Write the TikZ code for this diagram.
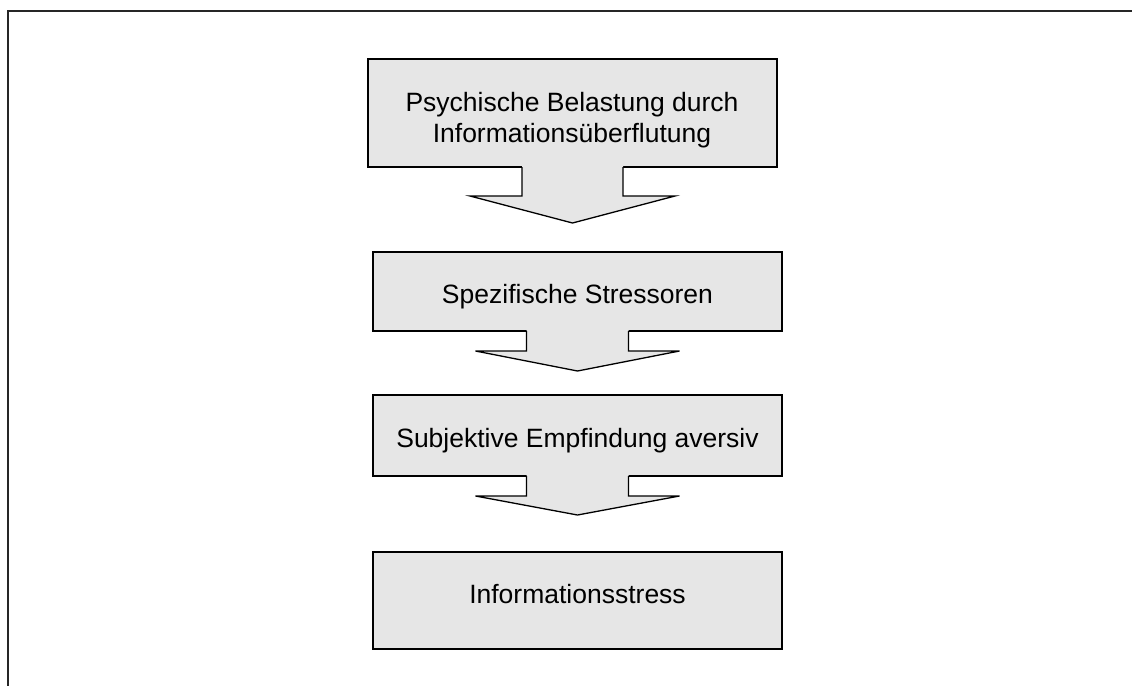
\documentclass[tikz,border=0pt]{standalone}
\usepackage{fontspec}
\setmainfont{Liberation Sans}
\usetikzlibrary{calc}
\definecolor{boxgray}{HTML}{E6E6E6}
\tikzset{
  box/.style={draw=black, line width=1.8pt, fill=boxgray, inner sep=0pt, outer sep=0pt},
  lbl/.style={anchor=base, inner sep=0pt, font=\fontsize{26.5}{31}\selectfont},
  arrowline/.style={draw=black, line width=1.3pt, line join=miter},
  frameline/.style={draw=black!85, line width=2pt}
}
% #1 box node, #2 half shaft width, #3 half head width, #4 head base drop, #5 tip drop
\newcommand\calloutarrow[5]{%
  \fill[boxgray] ($(#1.south)+(-#2,-1.5)$) -- ($(#1.south)+(-#2,#4)$) -- ($(#1.south)+(-#3,#4)$)
     -- ($(#1.south)+(0,#5)$) -- ($(#1.south)+(#3,#4)$) -- ($(#1.south)+(#2,#4)$)
     -- ($(#1.south)+(#2,-1.5)$) -- cycle;
  \draw[arrowline] ($(#1.south)+(-#2,0)$) -- ($(#1.south)+(-#2,#4)$) -- ($(#1.south)+(-#3,#4)$)
     -- ($(#1.south)+(0,#5)$) -- ($(#1.south)+(#3,#4)$) -- ($(#1.south)+(#2,#4)$)
     -- ($(#1.south)+(#2,0)$);
}
\begin{document}
\begin{tikzpicture}[x=1pt,y=-1pt]
\useasboundingbox (0,0) rectangle (1132,686);
\draw[frameline] (1132,11) -- (8,11) -- (8,686);

\node[box, minimum width=409pt, minimum height=108pt] (b1) at (572.5,113) {};
\node[box, minimum width=409pt, minimum height=79pt] (b2) at (577.5,291.5) {};
\node[box, minimum width=409pt, minimum height=81pt] (b3) at (577.5,435.5) {};
\node[box, minimum width=409pt, minimum height=97pt] (b4) at (577.5,600.5) {};

\calloutarrow{b1}{50.5}{102.5}{29}{56}
\calloutarrow{b2}{51}{102}{20}{40}
\calloutarrow{b3}{51}{102}{20}{39}

\node[lbl] (t1a) at (572,111) {Psychische Belastung durch};
\node[lbl] (t1b) at (572,142) {Informationsüberflutung};
\node[lbl] (t2) at (577.5,303) {Spezifische Stressoren};
\node[lbl] (t3) at (577.5,447) {Subjektive Empfindung aversiv};
\node[lbl] (t4) at (577.5,603) {Informationsstress};
\end{tikzpicture}
\end{document}
